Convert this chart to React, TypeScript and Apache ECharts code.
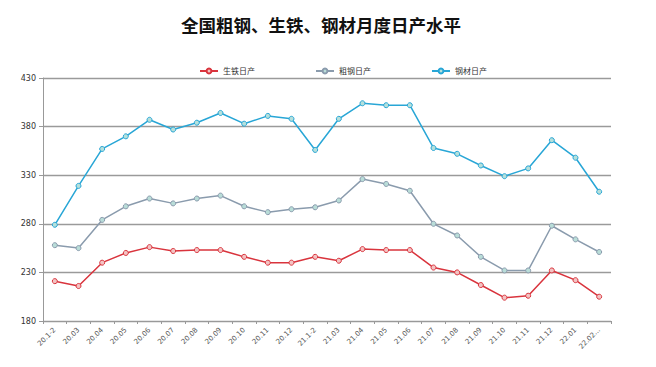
import React, { useEffect, useRef } from "react";
import * as echarts from "echarts";

const categories = [
  "20.1-2", "20.03", "20.04", "20.05", "20.06", "20.07", "20.08", "20.09", "20.10", "20.11", "20.12",
  "21.1-2", "21.03", "21.04", "21.05", "21.06", "21.07", "21.08", "21.09", "21.10", "21.11", "21.12",
  "22.01", "22.02...",
];

const pigIron = [221, 216, 240, 250, 256, 252, 253, 253, 246, 240, 240, 246, 242, 254, 253, 253, 235, 230, 217, 204, 206, 232, 222, 205];
const crudeSteel = [258, 255, 284, 298, 306, 301, 306, 309, 298, 292, 295, 297, 304, 326, 321, 314, 280, 268, 246, 232, 232, 278, 264, 251];
const steelProducts = [279, 319, 357, 370, 387, 377, 384, 394, 383, 391, 388, 356, 388, 404, 402, 402, 358, 352, 340, 329, 337, 366, 348, 313];

const yTicks = [180, 230, 280, 330, 380, 430];

const seriesNames = ["生铁日产", "粗钢日产", "钢材日产"];

export default function App() {
  const ref = useRef<HTMLDivElement>(null);
  useEffect(() => {
    if (!ref.current) return;
    const chart = echarts.init(ref.current, null, { renderer: "svg" });
    const mk = (name: string, data: number[], color: string, fill: string) => ({
      name,
      type: "line",
      data,
      symbol: "circle",
      symbolSize: 5,
      lineStyle: { color, width: 1.5 },
      itemStyle: { color: fill, borderColor: color, borderWidth: 1 },
      emphasis: { disabled: true },
    });
    chart.setOption({
      animation: false,
      backgroundColor: "#ffffff",
      title: {
        text: "全国粗钢、生铁、钢材月度日产水平",
        left: 176,
        top: 11,
        textStyle: {
          fontFamily: "Noto Sans CJK SC",
          fontSize: 17.5,
          fontWeight: "bold",
          color: "#111",
        },
      },
      legend: {
        data: seriesNames,
        left: 194,
        top: 62,
        itemGap: 60,
        itemWidth: 18,
        itemHeight: 6,
        textStyle: { fontFamily: "Noto Sans CJK SC", fontSize: 8, color: "#333" },
      },
      grid: { left: 43, right: 45, top: 78, bottom: 46, containLabel: false },
      xAxis: {
        type: "category",
        data: categories,
        boundaryGap: true,
        axisLine: { lineStyle: { color: "#999", width: 1 } },
        axisTick: { show: true, alignWithLabel: false, length: 3, lineStyle: { color: "#999" } },
        axisLabel: {
          rotate: 45,
          fontSize: 7,
          color: "#555",
          interval: 0,
          margin: 8,
          fontFamily: "DejaVu Sans",
        },
        splitLine: { show: false },
      },
      yAxis: {
        type: "value",
        min: 180,
        max: 430,
        interval: 50,
        axisLine: { show: true, lineStyle: { color: "#999", width: 1 } },
        axisTick: { show: true, length: 4, lineStyle: { color: "#999" }, customValues: yTicks },
        axisLabel: { fontSize: 8, color: "#333", margin: 7, customValues: yTicks, fontFamily: "DejaVu Sans" },
        splitLine: { show: true, lineStyle: { color: "#9a9a9a", width: 1.3 } },
      },
      series: [
        mk(seriesNames[0], pigIron, "#d9343d", "#f3c3c3"),
        mk(seriesNames[1], crudeSteel, "#8a9bad", "#b9ddd8"),
        mk(seriesNames[2], steelProducts, "#28a6d6", "#b5e0dc"),
      ],
    });
    return () => chart.dispose();
  }, []);
  return (
    <div
      ref={ref}
      style={{ position: "fixed", left: 0, top: 0, width: 656, height: 367 }}
    />
  );
}
